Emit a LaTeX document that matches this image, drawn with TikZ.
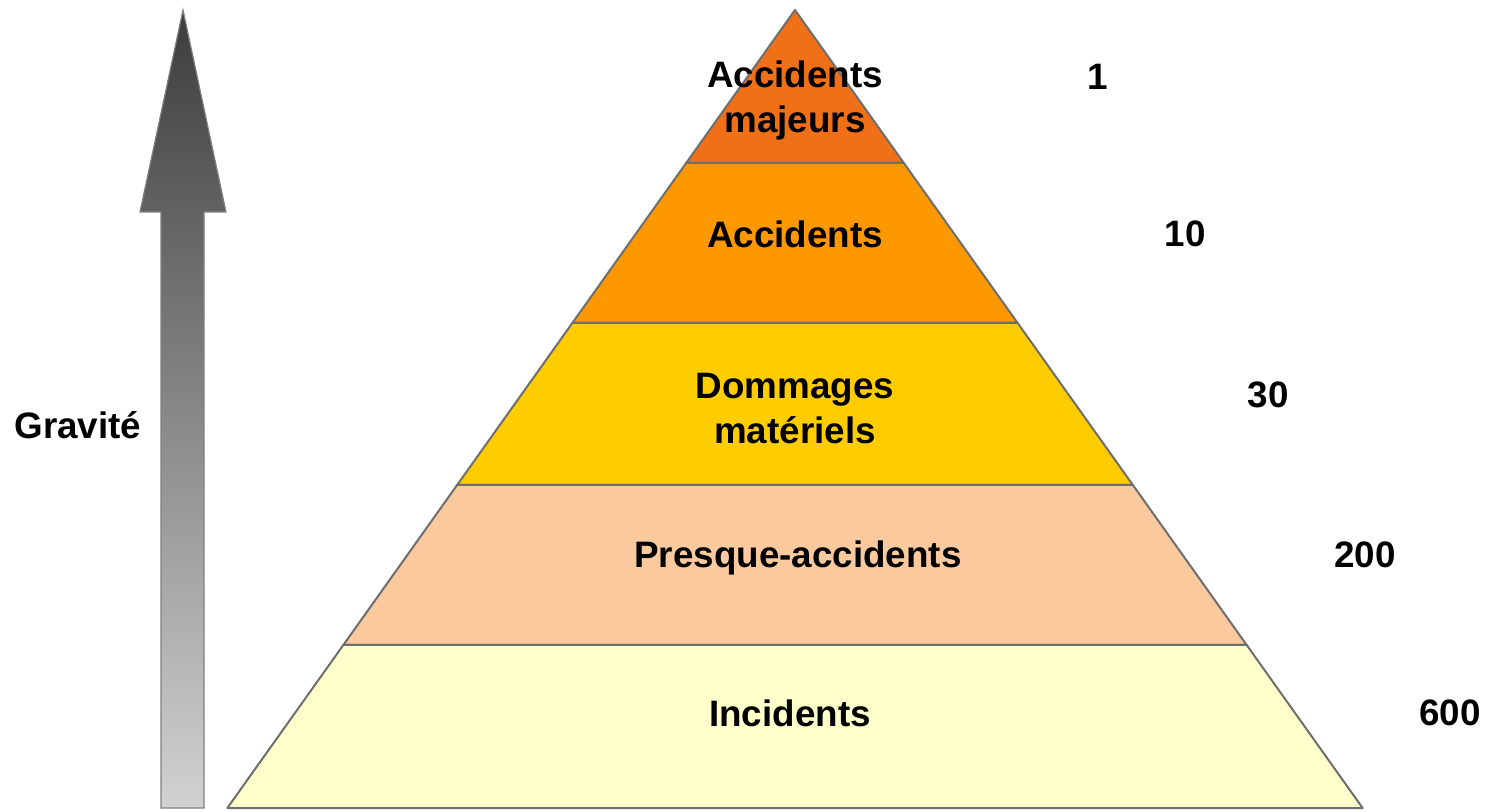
\documentclass[tikz,border=0pt]{standalone}
\usepackage{fontspec}
\setmainfont{Liberation Sans}
\definecolor{majeurcol}{RGB}{240,112,24}
\definecolor{accidentcol}{RGB}{253,152,0}
\definecolor{dommagecol}{RGB}{255,204,0}
\definecolor{presquecol}{RGB}{251,201,158}
\definecolor{incidentcol}{RGB}{255,255,204}
\definecolor{edgegray}{RGB}{110,110,110}
\definecolor{arrowtop}{RGB}{60,60,60}
\definecolor{arrowbot}{RGB}{210,210,210}
\begin{document}
\begin{tikzpicture}[x=0.5pt, y=-0.5pt,
  layer/.style={draw=edgegray, line width=1pt, line join=round},
  lbl/.style={font=\fontsize{18.4}{22.5}\selectfont\bfseries, align=center}]
  \useasboundingbox (0,0) rectangle (1490,812);

  % Gravity arrow
  \shadedraw[draw=gray, line width=0.6pt, top color=arrowtop, bottom color=arrowbot]
    (161,808) -- (161,212) -- (140,212) -- (183,10) -- (226,212)
    -- (204,212) -- (204,808) -- cycle;
  \node[lbl] (gravite) at (78,425) {Gravité};

  % Pyramid layers, apex at (795,10)
  \foreach \ya/\yb/\col in {10/163/majeurcol, 163/323/accidentcol,
      323/485/dommagecol, 485/645/presquecol, 645/808/incidentcol} {
    \pgfmathsetmacro\wa{(\ya-10)*0.7113}
    \pgfmathsetmacro\wb{(\yb-10)*0.7113}
    \filldraw[layer, fill=\col] (795-\wa,\ya) -- (795+\wa,\ya)
      -- (795+\wb,\yb) -- (795-\wb,\yb) -- cycle;
  }

  % Layer labels
  \node[lbl] (majeurs) at (795,100) {Accidents\\majeurs};
  \node[lbl] (accidents) at (795,234) {Accidents};
  \node[lbl] (dommages) at (795,409) {Dommages\\matériels};
  \node[lbl] (presque) at (798,558) {Presque-accidents};
  \node[lbl] (incidents) at (790,713) {Incidents};

  % Counts
  \node[lbl] (n1) at (1098,77) {1};
  \node[lbl] (n10) at (1185,234) {10};
  \node[lbl] (n30) at (1268,395) {30};
  \node[lbl] (n200) at (1365,555) {200};
  \node[lbl] (n600) at (1450,713) {600};
\end{tikzpicture}
\end{document}
